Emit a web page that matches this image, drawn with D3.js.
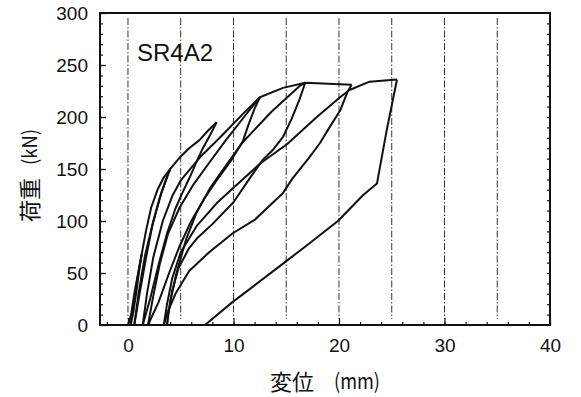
<!DOCTYPE html>
<html lang="ja">
<head>
<meta charset="UTF-8">
<title>SR4A2 荷重-変位</title>
<script src="https://cdnjs.cloudflare.com/ajax/libs/d3/7.8.5/d3.min.js"></script>
<style>
  body { margin: 0; background: #fff; }
  .tick text { font-family: "Liberation Sans", Arial, sans-serif; font-size: 19px; fill: #111; }
</style>
</head>
<body>
<div id="chart"></div>
<script>
// axis ticks
const xTicks = [0, 10, 20, 30, 40];
const yTicks = [0, 50, 100, 150, 200, 250, 300];
const gridX = [0, 5, 10, 15, 20, 25, 30, 35];

// load path, branch by branch: [変位 mm, 荷重 kN]
const smallLoad   = [[0,0],[0.3,10],[0.6,30],[1.0,52],[1.3,68]];
const smallUnload = [[1.3,68],[1.1,55],[0.8,32],[0.5,12],[0.25,0]];
const reloadA = [[0.25,0],[0.5,16],[0.9,45],[1.3,68],[1.7,90],[2.2,113],[2.8,130],[3.4,142],[4.0,150]];
const unloadA = [[4.0,150],[3.6,140],[3.0,122],[2.3,95],[1.7,64],[1.1,30],[0.6,0]];
const reloadB = [[0.6,0],[1.0,30],[1.6,66],[2.4,100],[3.2,128],[4.0,150],[4.9,161],[5.8,170],[6.8,178],[7.6,187],[8.4,195]];
const unloadB = [[8.4,195],[7.8,183],[7.1,170],[6.5,157],[5.9,143],[5.2,128],[4.5,112],[3.7,88],[2.9,58],[2.1,25],[1.4,0]];
const reloadC = [[1.4,0],[1.8,30],[2.4,65],[3.3,100],[4.2,124],[5.0,139],[6.8,161],[8.7,180],[10.9,203],[12.5,219]];
const unloadC = [[12.5,219],[12.0,208],[11.4,192],[10.9,177],[9.7,157],[8.4,139],[7.2,121],[6.0,100],[4.9,76],[3.9,50],[2.9,22],[1.9,0]];
const reloadD = [[1.9,0],[2.4,28],[3.0,58],[3.8,88],[4.9,113],[6.2,135],[7.7,156],[9.3,178],[11.0,200],[12.5,219],[14.7,228],[16.8,233]];
const unloadD = [[16.8,233],[16.3,218],[15.5,198],[14.7,181],[13.7,168],[12.8,159],[11.6,142],[10.0,118],[8.0,97],[6.6,84],[5.8,74],[4.8,55],[4.2,33],[3.8,10],[3.7,0]];
const reloadE = [[3.7,0],[4.0,22],[4.6,50],[5.5,82],[6.5,108],[7.8,132],[9.4,155],[10.9,176],[13.6,205],[16.3,230],[16.8,233],[19.0,232],[21.2,231]];
const unloadE = [[21.2,231],[20.8,224],[20.1,206],[19.1,190],[18.2,175],[17.1,160],[15.6,141],[14.7,127],[12.0,101],[9.9,88],[7.7,70],[5.8,52],[4.5,30],[3.7,11],[3.4,0]];
const reloadF = [[3.4,0],[3.7,20],[4.2,45],[5.0,70],[6.5,95],[8.4,117],[10.0,132],[12.5,155],[15.1,174],[17.9,200],[20.1,219],[21.0,226],[22.9,234],[25.5,236]];
const unloadF = [[25.5,236],[24.5,186],[23.6,136],[22.3,125],[19.9,100],[17.0,77],[14.7,59],[11.6,35],[9.9,22],[7.3,0]];

const branches = [smallLoad, smallUnload, reloadA, unloadA, reloadB, unloadB, reloadC, unloadC,
                  reloadD, unloadD, reloadE, unloadE, reloadF, unloadF];

const W = 581, H = 397;
const mLeft = 100, mRight = 550, mTop = 13, mBottom = 325;

const svg = d3.select('#chart').append('svg')
    .attr('width', W).attr('height', H);

const x = d3.scaleLinear().domain([-2.65, 40]).range([mLeft, mRight]);
const y = d3.scaleLinear().domain([0, 300]).range([mBottom, mTop]);

// dash-dot grid lines
svg.append('g').selectAll('line')
    .data(gridX).enter().append('line')
    .attr('x1', d => x(d)).attr('x2', d => x(d))
    .attr('y1', mTop + 5).attr('y2', mBottom - 6)
    .attr('stroke', '#333').attr('stroke-width', 1)
    .attr('stroke-dasharray', '7,2,1.5,2');

// axes with inward ticks
const yAxis = svg.append('g').attr('transform', `translate(${mLeft},0)`)
    .call(d3.axisLeft(y).tickValues(yTicks).tickSize(-6).tickPadding(12));
svg.append('g').attr('transform', `translate(${mLeft},0)`)
    .call(d3.axisLeft(y).tickValues(d3.range(0, 301, 10)).tickSize(-3).tickFormat(''));
svg.append('g').attr('transform', `translate(${mRight},0)`)
    .call(d3.axisRight(y).tickValues(d3.range(0, 301, 10)).tickSize(-3).tickFormat(''));

const xAxis = svg.append('g').attr('transform', `translate(0,${mBottom})`)
    .call(d3.axisBottom(x).tickValues(xTicks).tickSize(-7).tickPadding(14));
svg.append('g').attr('transform', `translate(0,${mBottom})`)
    .call(d3.axisBottom(x).tickValues(d3.range(-2, 41, 2)).tickSize(-3).tickFormat(''));

svg.selectAll('.domain').remove();
svg.selectAll('.tick line').attr('stroke', '#111').attr('stroke-width', 1.2);
yAxis.selectAll('.tick text').attr('dy', '0.35em');

// frame
svg.append('rect')
    .attr('x', mLeft).attr('y', mTop)
    .attr('width', mRight - mLeft).attr('height', mBottom - mTop)
    .attr('fill', 'none').attr('stroke', '#111').attr('stroke-width', 2);

// curves
svg.append('clipPath').attr('id', 'plot')
  .append('rect').attr('x', mLeft).attr('y', mTop).attr('width', mRight - mLeft).attr('height', mBottom - mTop);

const line = d3.line()
    .x(d => x(d[0])).y(d => y(d[1]));

svg.append('g').attr('clip-path', 'url(#plot)')
  .selectAll('path').data(branches).enter().append('path')
    .attr('d', line)
    .attr('fill', 'none')
    .attr('stroke', '#111')
    .attr('stroke-width', 2)
    .attr('stroke-linejoin', 'round');

// specimen name
svg.append('text')
    .attr('x', 137).attr('y', 61)
    .attr('font-family', '"Liberation Sans", Arial, sans-serif')
    .attr('font-size', 24).attr('fill', '#111')
    .text('SR4A2');

// axis titles
svg.append('text')
    .attr('x', 270).attr('y', 390)
    .attr('font-family', '"Noto Sans CJK JP", sans-serif')
    .attr('font-size', 22).attr('fill', '#111')
    .text('変位');
svg.append('text')
    .attr('x', 334).attr('y', 389)
    .attr('font-family', '"Noto Sans CJK JP", sans-serif')
    .attr('font-size', 21).attr('fill', '#111')
    .attr('textLength', 46).attr('lengthAdjust', 'spacingAndGlyphs')
    .text('(mm)');

svg.append('text')
    .attr('transform', 'translate(38,222) rotate(-90)')
    .attr('font-family', '"Noto Sans CJK JP", sans-serif')
    .attr('font-size', 22).attr('fill', '#111')
    .text('荷重');
svg.append('text')
    .attr('transform', 'translate(37,165) rotate(-90)')
    .attr('font-family', '"Noto Sans CJK JP", sans-serif')
    .attr('font-size', 20).attr('fill', '#111')
    .attr('textLength', 36).attr('lengthAdjust', 'spacingAndGlyphs')
    .text('(kN)');
</script>
</body>
</html>
